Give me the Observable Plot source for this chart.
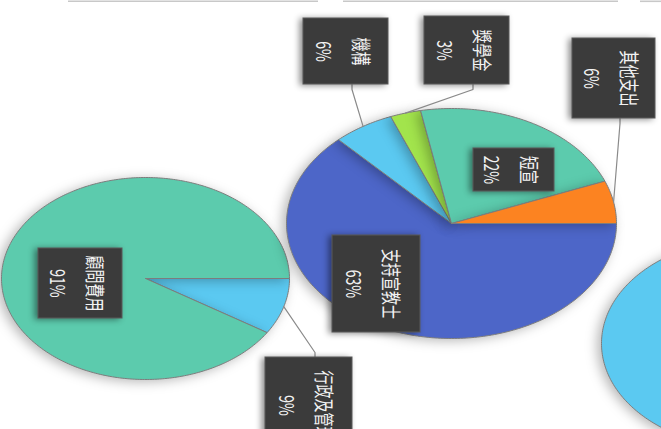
<!DOCTYPE html>
<html><head><meta charset="utf-8">
<script src="https://cdn.jsdelivr.net/npm/d3@7"></script>
<script src="https://cdn.jsdelivr.net/npm/@observablehq/plot@0.6"></script>
<style>
html,body{margin:0;padding:0;overflow:hidden;background:#fff;width:661px;height:429px}
#chart svg{display:block;overflow:hidden}
</style>
</head><body><div id="chart"></div>
<script>
// ---- data ----
const mainLabels = ["支持宣教士", "機構", "獎學金", "短宣", "其他支出"];
const mainValues = [63, 6, 3, 22, 6];
const leftLabels = ["行政及管理", "顧問費用"];
const leftValues = [9, 91];
const rightLabels = ["其他"];
const rightValues = [100];

// ---- styles ----
const mainColors = ["#4d66c8", "#5bc9f1", "#a2e44c", "#5ccbad", "#fc8321"];
const leftColors = ["#5bc9f1", "#5ccbad"];
const rightColors = ["#5bc9f1"];

// ---- layout (screen px) ----
const pies = [
  {labels: leftLabels, values: leftValues, colors: leftColors, cx: 145, cy: 278, rx: 144, ry: 101},
  {labels: mainLabels, values: mainValues, colors: mainColors, cx: 451, cy: 223, rx: 165, ry: 115},
  {labels: rightLabels, values: rightValues, colors: rightColors, cx: 751, cy: 343, rx: 150, ry: 105}
];
const boxLayout = {
  "支持宣教士": {x: 376, y: 283.5, w: 88, h: 97},
  "機構": {x: 345.5, y: 51, w: 85, h: 66, lead: "bottom"},
  "獎學金": {x: 466.5, y: 50, w: 85, h: 68, lead: "bottom"},
  "短宣": {x: 513.5, y: 169.5, w: 81, h: 43},
  "其他支出": {x: 613.5, y: 78, w: 83, h: 80, lead: "bottom"},
  "行政及管理": {x: 308.5, y: 405, w: 87, h: 96, lead: "top"},
  "顧問費用": {x: 80, y: 283, w: 84, h: 70}
};
const topEdges = [{a: 68, b: 318}, {a: 343, b: 618}, {a: 640, b: 661}];

// ---- build geometry from data ----
const slices = [];
const leaders = [];
const boxes = [];
pies.forEach((p, pi) => {
  const total = d3.sum(p.values);
  let a0 = 0;
  p.values.forEach((v, i) => {
    const a1 = a0 + v / total * 2 * Math.PI;
    const key = pi + "-" + i;
    const pts = [];
    if (v < total) pts.push({key, x: p.cx, y: p.cy});
    const n = Math.max(2, Math.ceil((a1 - a0) / (Math.PI / 180)));
    for (let k = 0; k <= n; k++) {
      const t = a0 + (a1 - a0) * k / n;
      pts.push({key, x: p.cx + p.rx * Math.cos(t), y: p.cy + p.ry * Math.sin(t)});
    }
    if (v < total) pts.push({key, x: p.cx, y: p.cy});
    slices.push({color: p.colors[i], pts});
    const lab = p.labels[i];
    const b = boxLayout[lab];
    if (b) {
      boxes.push({label: lab, text: lab + "\n" + v + "%", ...b});
      if (b.lead) {
        const m = (a0 + a1) / 2;
        const ex = p.cx + p.rx * Math.cos(m), ey = p.cy + p.ry * Math.sin(m);
        const ax = b.x + 6;
        const ay = b.lead === "bottom" ? b.y + b.h / 2 : b.y - b.h / 2;
        const ey2 = b.lead === "bottom" ? ay + 5 : ay - 5;
        leaders.push({key: lab, x: ex, y: ey}, {key: lab, x: ax, y: ey2}, {key: lab, x: ax, y: ay});
      }
    }
    a0 = a1;
  });
});

const marks = [
  Plot.ruleY(topEdges, {y: () => 0.8, x1: "a", x2: "b", stroke: "#c8c8c8", strokeWidth: 1.6}),
  ...slices.map(s => Plot.line(s.pts, {x: "x", y: "y", fill: s.color, stroke: "#7d7d7d", strokeWidth: 1, strokeLinejoin: "round"})),
  Plot.line(leaders, {x: "x", y: "y", z: "key", stroke: "#8a8a8a", strokeWidth: 1.2}),
  Plot.rect(boxes, {x1: d => d.x - d.w / 2, x2: d => d.x + d.w / 2, y1: d => d.y - d.h / 2, y2: d => d.y + d.h / 2, fill: "#3b3b3b", stroke: "#5a5a5a", strokeWidth: 1}),
  Plot.text(boxes, {x: "x", y: "y", text: "text", rotate: 90, fill: "#f2f2f2", fontSize: 14, lineHeight: 1.85,
    textAnchor: "middle", lineAnchor: "middle", fontFamily: "'Noto Sans CJK TC', 'Noto Sans', sans-serif"})
];

const chart = Plot.plot({
  width: 661, height: 429, margin: 0,
  x: {domain: [0, 661], range: [0, 661], axis: null},
  y: {domain: [0, 429], range: [0, 429], axis: null},
  style: {background: "#fff", overflow: "hidden"},
  marks
});
document.getElementById("chart").appendChild(chart);

// effects: shadows and stretched label glyphs
const groups = Array.from(chart.children).filter(n => n.tagName.toLowerCase() === "g");
const nPie = slices.length;
groups.slice(1, 1 + nPie).forEach(g => g.style.filter = "drop-shadow(-4px 2px 6px rgba(0,0,0,0.28))");
const rectG = groups[1 + nPie + 1];
if (rectG) rectG.style.filter = "drop-shadow(-3px 1px 3px rgba(0,0,0,0.45))";
chart.querySelectorAll('g[aria-label="text"] text').forEach(t => {
  const tr = t.getAttribute("transform") || "";
  t.setAttribute("transform", tr + " scale(1,1.43)");
});
</script>
</body></html>
